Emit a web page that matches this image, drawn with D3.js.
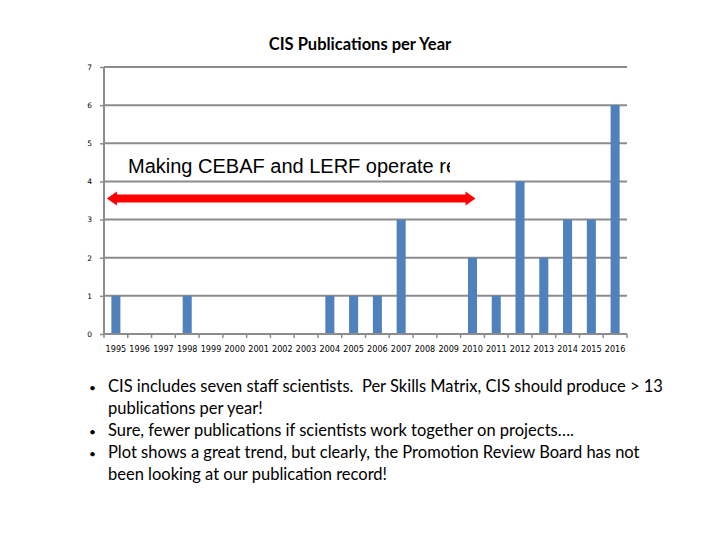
<!DOCTYPE html>
<html><head><meta charset="utf-8">
<script src="https://cdn.jsdelivr.net/npm/d3@7"></script>
<style>body{margin:0;background:#fff}svg{display:block}</style>
</head><body>
<svg id="c" width="720" height="540"></svg>
<script>
const years = ["1995","1996","1997","1998","1999","2000","2001","2002","2003","2004","2005","2006","2007","2008","2009","2010","2011","2012","2013","2014","2015","2016"];
const publications = [1,0,0,1,0,0,0,0,0,1,1,1,3,0,0,2,1,4,2,3,3,6];
const yTicks = [0,1,2,3,4,5,6,7];
const title = "CIS Publications per Year";
const annotation = "Making CEBAF and LERF operate reliably";
const arrowSpan = ["1995", "2010"];
const bullets = [
  ["CIS includes seven staff scientists.\u00a0 Per Skills Matrix, CIS should produce > 13", "publications per year!"],
  ["Sure, fewer publications if scientists work together on projects…."],
  ["Plot shows a great trend, but clearly, the Promotion Review Board has not", "been looking at our publication record!"]
];

const svg = d3.select("#c");
const L = 104, R = 627, T = 67, B = 334;
const x = d3.scaleBand().domain(years).range([L, R]).paddingInner(0.62).paddingOuter(0.31);
const y = d3.scaleLinear().domain([0, 7]).range([B, T]);

svg.append("text").attr("x", 360).attr("y", 50).attr("text-anchor", "middle")
  .attr("font-family", "Lato, 'Open Sans', sans-serif").attr("font-weight", "bold")
  .attr("font-size", 16.5).text(title);

// gridlines
svg.append("g").selectAll("line").data(yTicks.filter(d => d > 0)).join("line")
  .attr("x1", L).attr("x2", R).attr("y1", d => y(d)).attr("y2", d => y(d))
  .attr("stroke", "#8c8c8c").attr("stroke-width", 2);

// bars
svg.append("g").selectAll("rect").data(publications).join("rect")
  .attr("x", (d, i) => x(years[i])).attr("width", x.bandwidth())
  .attr("y", d => y(d)).attr("height", d => B - y(d))
  .attr("fill", "#4F81BD");

// y axis
const ya = svg.append("g").attr("transform", `translate(${L},0)`)
  .call(d3.axisLeft(y).tickValues(yTicks).tickFormat(d3.format("d")).tickSize(4).tickPadding(8));
ya.select(".domain").attr("stroke", "#8c8c8c").attr("stroke-width", 2).attr("d", `M0,${B}V${T}`);
ya.selectAll(".tick line").attr("stroke", "#8c8c8c").attr("stroke-width", 1.5);
ya.selectAll("text").attr("font-family", "'DejaVu Sans', sans-serif").attr("font-size", 7.5).attr("fill", "#000");

// x axis
const xa = svg.append("g").attr("transform", `translate(0,${B})`)
  .call(d3.axisBottom(x).tickSize(0).tickPadding(12));
xa.select(".domain").attr("stroke", "#8c8c8c").attr("stroke-width", 2).attr("d", `M${L},0H${R}`);
xa.selectAll("text").attr("font-family", "'Liberation Sans Narrow', 'DejaVu Sans Condensed', sans-serif").attr("font-size", 9).attr("fill", "#000");
const step = x.step();
xa.append("g").selectAll("line").data(d3.range(years.length + 1)).join("line")
  .attr("x1", i => L + i * step).attr("x2", i => L + i * step)
  .attr("y1", 0).attr("y2", 4).attr("stroke", "#8c8c8c").attr("stroke-width", 1.5);

// annotation (clipped text box)
const clip = svg.append("defs").append("clipPath").attr("id", "tb");
clip.append("rect").attr("x", 120).attr("y", 150).attr("width", 330).attr("height", 35);
svg.append("text").attr("clip-path", "url(#tb)").attr("x", 128).attr("y", 173)
  .attr("font-family", "Arial, 'Liberation Sans', sans-serif").attr("font-size", 20).text(annotation);

// red double arrow
const ax1 = x(arrowSpan[0]) - 4.5, ax2 = x(arrowSpan[1]) + x.bandwidth() - 1.5, ay = 198.5;
const hw = 10, hh = 7, bh = 4;
svg.append("path").attr("fill", "#ff0000")
  .attr("d", `M${ax1},${ay} L${ax1 + hw},${ay - hh} L${ax1 + hw},${ay - bh} L${ax2 - hw},${ay - bh} L${ax2 - hw},${ay - hh} L${ax2},${ay} L${ax2 - hw},${ay + hh} L${ax2 - hw},${ay + bh} L${ax1 + hw},${ay + bh} L${ax1 + hw},${ay + hh} Z`);

// bullets
let ly = 392;
const g = svg.append("g").attr("font-family", "Lato, 'Open Sans', sans-serif").attr("font-size", 16.5);
bullets.forEach(b => {
  g.append("text").attr("x", 89).attr("y", ly).attr("font-size", 12).text("•");
  b.forEach(line => {
    g.append("text").attr("x", 108).attr("y", ly).text(line);
    ly += 22;
  });
});
</script>
</body></html>
